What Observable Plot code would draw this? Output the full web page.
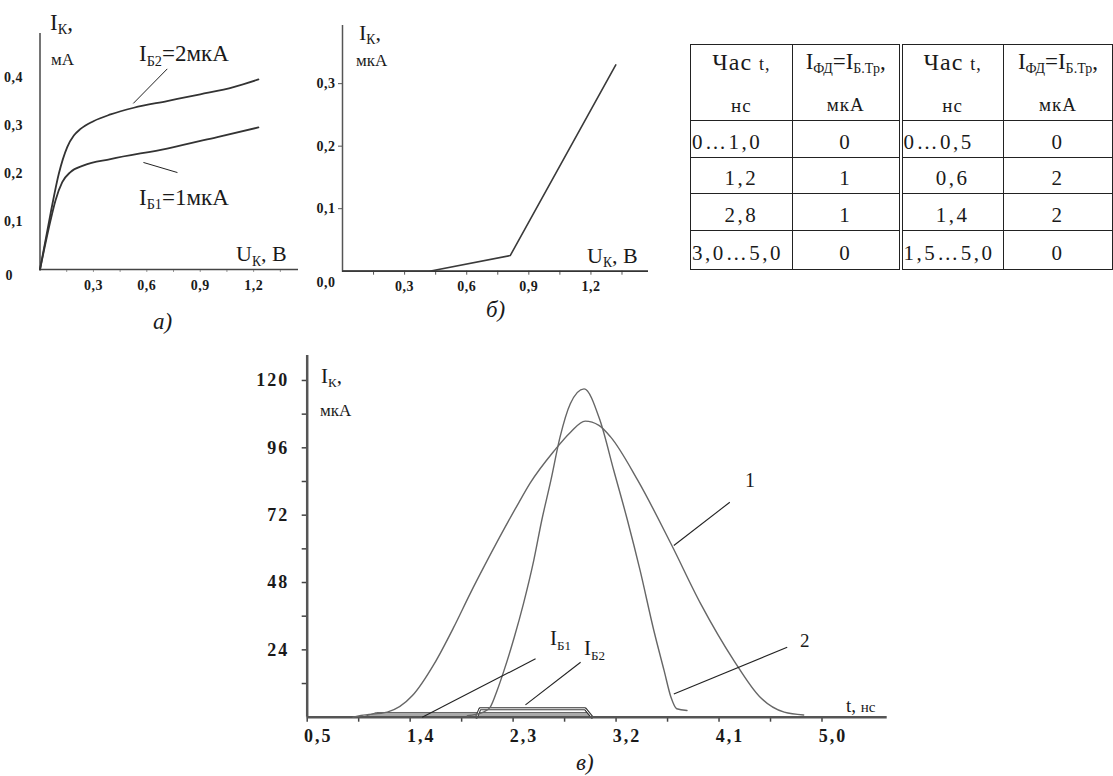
<!DOCTYPE html>
<html>
<head>
<meta charset="utf-8">
<script src="https://cdn.jsdelivr.net/npm/d3@7"></script>
<script src="https://cdn.jsdelivr.net/npm/@observablehq/plot@0.6"></script>
<style>
  html, body { margin: 0; padding: 0; background: #fff; }
  #root { position: relative; width: 1113px; height: 776px; overflow: hidden; background: #fff;
          font-family: "Liberation Serif", "DejaVu Serif", serif; color: #1a1a1a; }
  .lab { position: absolute; line-height: 1; white-space: nowrap; }
  .sub { font-size: 0.62em; position: relative; top: 0.32em; }
  table.t { position: absolute; left: 690px; top: 44px; border-collapse: collapse; table-layout: fixed;
            font-family: "Liberation Serif", serif; color: #1a1a1a; }
  table.t td { border: 1.5px solid #222; padding: 0; text-align: center; vertical-align: middle;
               font-family: "Liberation Serif", serif; font-size: 21px; line-height: 1; letter-spacing: 2.5px; }
  table.t td.l { text-align: left; padding-left: 1px; }
  table.t td.dbl { border-right: 4px double #222; }
  table.t tr.h td { vertical-align: top; letter-spacing: 0; }
</style>
</head>
<body>
<div id="root"></div>
<script>
// ---------- Panel а: output characteristics ----------
const aU2 = [0, 0.059, 0.106, 0.153, 0.19, 0.228, 0.30, 0.396, 0.527, 0.714, 0.90, 1.087, 1.227];
const aI2 = [0, 0.116, 0.200, 0.255, 0.279, 0.293, 0.309, 0.323, 0.337, 0.351, 0.365, 0.380, 0.396];
const aU1 = [0, 0.059, 0.087, 0.125, 0.171, 0.246, 0.396, 0.714, 0.996, 1.227];
const aI1 = [0, 0.102, 0.144, 0.182, 0.203, 0.217, 0.230, 0.252, 0.276, 0.296];
const aXTicks = [0.3, 0.6, 0.9, 1.2];
const aYTicks = [0.1, 0.2, 0.3, 0.4];
// leader lines (data units): [u1, i1, u2, i2]
const aLeaders = [[0.715, 0.418, 0.524, 0.346], [0.581, 0.223, 0.772, 0.202]];

// ---------- Panel б ----------
const bU = [0, 0.42, 0.81, 1.32];
const bI = [0, 0, 0.025, 0.33];
const bXTicks = [0.3, 0.6, 0.9, 1.2];
const bYTicks = [0.1, 0.2, 0.3];

// ---------- Panel в: transient ----------
const cT1 = [0.9, 0.97, 1.2, 1.42, 1.61, 1.78, 1.93, 2.05, 2.2, 2.35, 2.45, 2.66, 2.8, 2.93, 3.05, 3.15, 3.39, 3.68, 3.94, 4.23, 4.46, 4.67, 4.84];
const cI1 = [0, 0.6, 1.8, 7.7, 19, 32, 44.5, 54, 65.5, 76.5, 83.5, 95, 101.5, 105.5, 104, 100, 84.4, 61.8, 40.4, 20.2, 7.1, 1.8, 0.8];
const cT2 = [1.9, 1.97, 2.04, 2.1, 2.16, 2.22, 2.31, 2.39, 2.48, 2.55, 2.63, 2.71, 2.8, 2.92, 3.06, 3.18, 3.3, 3.41, 3.53, 3.62, 3.68, 3.73, 3.82];
const cI2 = [0.5, 1, 1.8, 3.6, 9.5, 16.6, 28.5, 40.4, 55.8, 70.1, 84.4, 99.8, 111.7, 117, 105.7, 87.9, 70.1, 52.3, 30.9, 16.6, 7.1, 3, 2.4];
const ib1T = [1.0, 1.11, 2.95, 3.0];
const ib1V = [0, 1.5, 1.5, 0];
const ib2T = [1.98, 2.01, 2.93, 2.99];
const ib2V = [0, 3, 3, 0];
const cXTicks = [0.5, 1.4, 2.3, 3.2, 4.1, 5.0];
const cYTicks = [24, 48, 72, 96, 120];
const cLeaders = [[4.194, 76.6, 3.705, 61.2], [4.696, 24.9, 3.705, 8.3], [2.496, 20.8, 1.505, 0], [2.89, 19.6, 2.408, 4.4]];

// ---------- Table ----------
const tHeadT = ["Час", "t,", "нс"];
const tHeadI = ["ФД", "Б.Тр", "мкА"];
const tLeftT = ["0…1,0", "1,2", "2,8", "3,0…5,0"];
const tLeftI = ["0", "1", "1", "0"];
const tRightT = ["0…0,5", "0,6", "1,4", "1,5…5,0"];
const tRightI = ["0", "2", "2", "0"];

const fmt1 = d => d.toFixed(1).replace(".", ",");
const zip = (xs, ys) => xs.map((x, i) => ({x, y: ys[i]}));
const links = arr => arr.map(([x1, y1, x2, y2]) => ({x1, y1, x2, y2}));
const root = document.getElementById("root");

function put(node, left, top, fontSize, spacing) {
  d3.select(node).selectAll("text")
    .style("font-size", fontSize + "px")
    .style("font-family", "'Liberation Serif', serif")
    .style("font-weight", "bold")
    .style("letter-spacing", spacing + "px")
    .style("fill", "#1a1a1a");
  const d = document.createElement("div");
  d.style.position = "absolute"; d.style.left = left + "px"; d.style.top = top + "px";
  d.appendChild(node); root.appendChild(d);
}
function label(html, left, baseline, size, extra = "") {
  const d = document.createElement("div");
  d.className = "lab";
  d.style.left = left + "px";
  d.style.top = (baseline - 0.837 * size) + "px";
  d.style.fontSize = size + "px";
  d.style.cssText += extra;
  d.innerHTML = html;
  root.appendChild(d);
}
const st = {background: "transparent", fontFamily: "Liberation Serif", color: "#1a1a1a", overflow: "visible"};

// Panel а
const pa = Plot.plot({
  width: 300, height: 300, marginLeft: 39.5, marginRight: 2, marginTop: 33, marginBottom: 31,
  x: {domain: [0, 1.452]}, y: {domain: [0, 0.4917]},
  style: st,
  marks: [
    Plot.axisX(d3.range(1, 10).map(k => k * 0.15), {tickSize: 3, tickFormat: () => "", stroke: "#999", label: null}),
    Plot.axisX(aXTicks, {tickSize: 0, tickPadding: 11, tickFormat: fmt1, label: null}),
    Plot.axisY(aYTicks, {tickSize: 0, tickPadding: 17, tickFormat: fmt1, label: null}),
    Plot.axisY([0], {tickSize: 0, tickPadding: 27, tickFormat: () => "0", dy: 6, label: null}),
    Plot.ruleX([0], {stroke: "#666", strokeWidth: 1.8}),
    Plot.ruleY([0], {stroke: "#444", strokeWidth: 1.5}),
    Plot.line(zip(aU2, aI2), {x: "x", y: "y", curve: "monotone-x", stroke: "#333", strokeWidth: 1.8}),
    Plot.line(zip(aU1, aI1), {x: "x", y: "y", curve: "monotone-x", stroke: "#333", strokeWidth: 1.8}),
    Plot.link(links(aLeaders), {x1: "x1", y1: "y1", x2: "x2", y2: "y2", stroke: "#222", strokeWidth: 1})
  ]
});
put(pa, 0, 0, 14, 0.5);

// Panel б
const pb = Plot.plot({
  width: 360, height: 300, marginLeft: 42, marginRight: 12, marginTop: 25, marginBottom: 29.3,
  x: {domain: [0, 1.478]}, y: {domain: [0, 0.393]},
  style: st,
  marks: [
    Plot.axisX(d3.range(1, 10).map(k => k * 0.15), {tickSize: 4, tickFormat: () => "", stroke: "#555", label: null}),
    Plot.axisX(bXTicks, {tickSize: 0, tickPadding: 10, tickFormat: fmt1, label: null}),
    Plot.axisY(bYTicks, {tickSize: 4, tickPadding: 3, tickFormat: fmt1, label: null, stroke: "#555"}),
    Plot.axisY([0], {tickSize: 0, tickPadding: 7, tickFormat: () => "0,0", dy: 11, label: null}),
    Plot.ruleX([0], {stroke: "#555", strokeWidth: 1.5}),
    Plot.ruleY([0], {stroke: "#333", strokeWidth: 1.8}),
    Plot.line(zip(bU, bI), {x: "x", y: "y", stroke: "#3a3a3a", strokeWidth: 1.6})
  ]
});
put(pb, 300, 0, 14, 0.5);

// Panel в
const pc = Plot.plot({
  width: 720, height: 436, marginLeft: 106.7, marginRight: 33.3, marginTop: 15, marginBottom: 59.3,
  x: {domain: [0.5, 5.57]}, y: {domain: [0, 128.9]},
  style: st,
  marks: [
    Plot.axisX(d3.range(0, 11).map(k => 0.5 + k * 0.45), {tickSize: 5, tickFormat: () => "", stroke: "#444", strokeWidth: 1.5, label: null}),
    Plot.axisX(cXTicks, {tickSize: 0, tickPadding: 12, dx: 11, tickFormat: fmt1, label: null}),
    Plot.axisY(d3.range(1, 11).map(k => k * 12), {tickSize: 5, tickFormat: () => "", stroke: "#444", strokeWidth: 1.5, label: null}),
    Plot.axisY(cYTicks, {tickSize: 0, tickPadding: 18, tickFormat: d => String(d), label: null}),
    Plot.areaY(zip(ib1T, ib1V), {x: "x", y: "y", fill: "#aaa", stroke: "#666", strokeWidth: 1}),
    Plot.line(zip(ib2T, ib2V), {x: "x", y: "y", stroke: "#333", strokeWidth: 3}),
    Plot.line(zip(ib2T, ib2V), {x: "x", y: "y", stroke: "#fff", strokeWidth: 1}),
    Plot.ruleY([0], {stroke: "#555", strokeWidth: 2.5}),
    Plot.ruleX([0.5], {stroke: "#555", strokeWidth: 2.5}),
    Plot.line(zip(cT1, cI1), {x: "x", y: "y", curve: "monotone-x", stroke: "#666", strokeWidth: 1.4}),
    Plot.line(zip(cT2, cI2), {x: "x", y: "y", curve: "monotone-x", stroke: "#666", strokeWidth: 1.4}),
    Plot.link(links(cLeaders), {x1: "x1", y1: "y1", x2: "x2", y2: "y2", stroke: "#222", strokeWidth: 1.1})
  ]
});
put(pc, 200, 340, 18, 2);

// ---------- Labels ----------
const S = t => `<span class="sub">${t}</span>`;
// а
label(`I${S("К")},`, 50, 30, 23);
label(`мА`, 51, 65, 17);
label(`I${S("Б2")}=2мкА`, 139, 61.7, 23);
label(`I${S("Б1")}=1мкА`, 139, 205, 23);
label(`U${S("К")}, B`, 236, 261.7, 22);
label(`а)`, 153, 329, 23, "font-style:italic;");
// б
label(`I${S("К")},`, 359, 40, 22);
label(`мкА`, 356, 66.7, 17);
label(`U${S("К")}, B`, 587, 263.3, 22);
label(`б)`, 486, 317, 23, "font-style:italic;");
// в
label(`I${S("К")},`, 321, 383.3, 21);
label(`мкА`, 320, 416.7, 17);
label(`1`, 745, 486.7, 20);
label(`2`, 800, 646.7, 19);
label(`I${S("Б1")}`, 550, 646, 21);
label(`I${S("Б2")}`, 584, 656, 21);
label(`t, <span style="font-size:15px">нс</span>`, 846, 712, 19);
label(`в)`, 576, 770, 23, "font-style:italic;");

// ---------- Table ----------
const tbl = document.createElement("table");
tbl.className = "t";
const colW = [103, 109, 104, 110];
const cg = document.createElement("colgroup");
colW.forEach(w => { const c = document.createElement("col"); c.style.width = w + "px"; cg.appendChild(c); });
tbl.appendChild(cg);
const hCell1 = `<div style="margin-top:5px;font-size:24px;letter-spacing:1px;white-space:nowrap">${tHeadT[0]} <span style="font-size:18px">${tHeadT[1]}</span></div>
  <div style="margin-top:22px;font-size:19px;letter-spacing:1px">${tHeadT[2]}</div>`;
const hCell2 = `<div style="margin-top:5px;font-size:23px;white-space:nowrap">I<span class="sub" style="font-size:14px">${tHeadI[0]}</span>=I<span class="sub" style="font-size:14px">${tHeadI[1]}</span>,</div>
  <div style="margin-top:22px;font-size:19px;letter-spacing:1px">${tHeadI[2]}</div>`;
const hr = document.createElement("tr");
hr.className = "h"; hr.style.height = "76px";
hr.innerHTML = `<td>${hCell1}</td><td class="dbl">${hCell2}</td><td>${hCell1}</td><td>${hCell2}</td>`;
tbl.appendChild(hr);
const rowH = [37, 36, 37, 39];
tLeftT.forEach((t, i) => {
  const tr = document.createElement("tr");
  tr.style.height = rowH[i] + "px";
  const al = t.includes("…") ? "l" : "";
  const ar = tRightT[i].includes("…") ? "l" : "";
  tr.innerHTML = `<td class="${al}" style="padding-top:6px">${t}</td><td class="dbl" style="padding-top:6px">${tLeftI[i]}</td>` +
                 `<td class="${ar}" style="padding-top:6px">${tRightT[i]}</td><td style="padding-top:6px">${tRightI[i]}</td>`;
  tbl.appendChild(tr);
});
root.appendChild(tbl);
</script>
</body>
</html>
